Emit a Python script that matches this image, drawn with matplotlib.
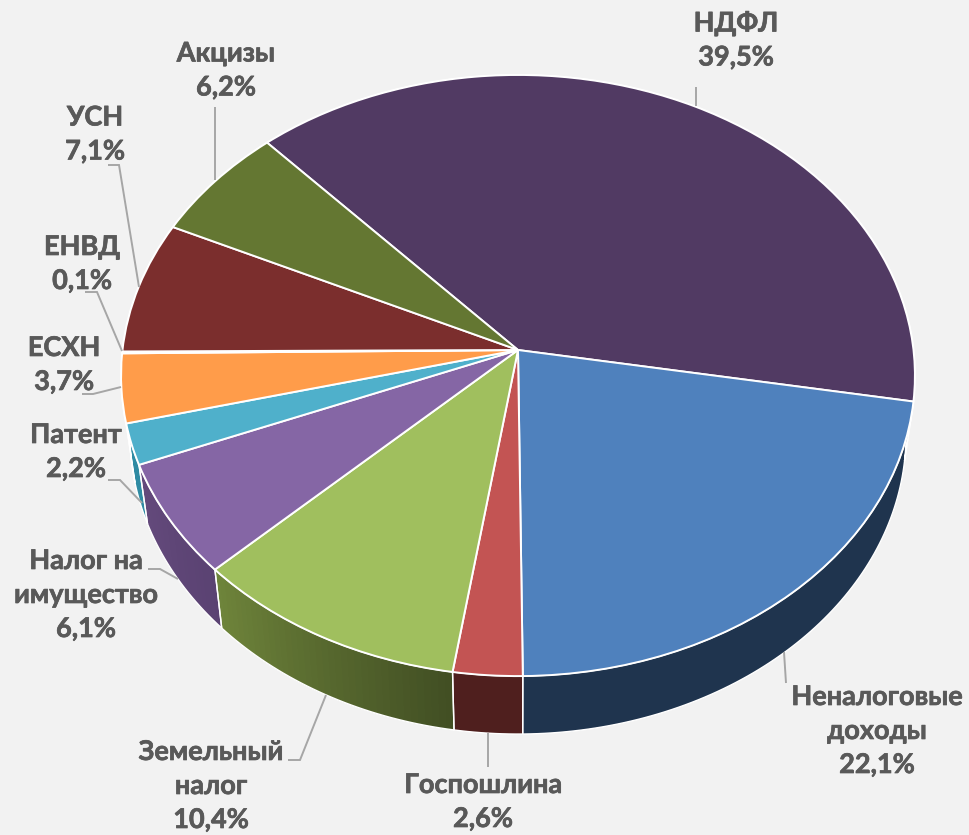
import numpy as np
import matplotlib
matplotlib.use("Agg")
import matplotlib.pyplot as plt
import matplotlib.patheffects as pe
from matplotlib.colors import to_rgb
from matplotlib.patches import Polygon
from matplotlib.transforms import Transform

plt.rcParams['font.family'] = ['Lato', 'DejaVu Sans']

# ---- data ----
names = ['НДФЛ', 'Неналоговые\nдоходы', 'Госпошлина', 'Земельный\nналог',
         'Налог на\nимущество', 'Патент', 'ЕСХН', 'ЕНВД', 'УСН', 'Акцизы']
shares = [39.5, 22.1, 2.6, 10.4, 6.1, 2.2, 3.7, 0.1, 7.1, 6.2]
shares_text = ['39,5%', '22,1%', '2,6%', '10,4%', '6,1%', '2,2%', '3,7%', '0,1%', '7,1%', '6,2%']

# ---- style ----
BG = '#F2F2F2'
top_colors = ['#513A63', '#4F81BD', '#C35453', '#A0BF5E', '#8566A5',
              '#4FB0CB', '#FF9C4A', '#FF9C4A', '#7B2E2D', '#647732']
wall_start = ['#35263F', '#1F344E', '#4F1F1E', '#414E23', '#5A4272',
              '#2F8BA3', '#B86A2E', '#B86A2E', '#4F1F1E', '#414E23']
wall_end = ['#35263F', '#1F344E', '#4F1F1E', '#6F853B', '#644A7C',
            '#2F8BA3', '#B86A2E', '#B86A2E', '#4F1F1E', '#414E23']
label_xy = [(736, 40.5), (877, 731), (483, 802), (211, 786), (86, 595),
            (76, 452), (64, 365), (82, 264), (95, 134.5), (226, 70.5)]
leaders = [
    [(696, 87), (696, 106)],
    [(784, 652), (786, 683)],
    [(488, 733), (488, 767)],
    [(288, 760), (300, 760), (326, 695)],
    [(148, 569), (160, 569), (178, 579)],
    [(108, 480), (120, 480), (142, 503)],
    [(82, 394), (93, 394), (121, 387)],
    [(85, 292), (97, 292), (122, 351)],
    [(108, 165), (119, 165), (139, 287)],
    [(215, 107), (215, 180)],
]
K = 0.0849  # perspective strength
TOP = dict(cx=518.0, cy=350.0, a=395.5, b=298.4)
BOTTOM = dict(cx=518.0, cy=409.6, a=386.6, b=296.9)


def project(uv, cx, cy, a, b):
    uv = np.asarray(uv, float)
    w = 1 + K * uv[..., 1]
    return np.stack([cx + a * uv[..., 0] / w, cy - b * uv[..., 1] / w], axis=-1)


class Perspective(Transform):
    input_dims = 2
    output_dims = 2
    is_affine = False
    has_inverse = False

    def __init__(self, params):
        super().__init__()
        self.params = params

    def transform_non_affine(self, values):
        return project(values, **self.params)


fig = plt.figure(figsize=(9.69, 8.35), dpi=100, facecolor=BG)
ax = fig.add_axes([0, 0, 1, 1], facecolor=BG)

wedges, _ = ax.pie(shares, colors=top_colors, startangle=132.4, counterclock=False,
                   wedgeprops=dict(edgecolor='white', linewidth=1.4))
ax.set_aspect('auto')
ax.set_xlim(0, 969)
ax.set_ylim(835, 0)
ax.axis('off')

persp = Perspective(TOP)
for w in wedges:
    w.set_transform(persp + ax.transData)
    w.set_zorder(3)
    w.set_clip_on(False)


def arc(t1, t2, n):
    t = np.radians(np.linspace(t1, t2, n))
    return np.column_stack([np.cos(t), np.sin(t)])


# side walls: shaded strips between upper and lower rim
for w, ca, cb in zip(wedges, wall_start, wall_end):
    t_hi, t_lo = w.theta2, w.theta1   # clockwise: from t_hi down to t_lo
    n = max(3, int((t_hi - t_lo) / 1.0) + 2)
    uv = arc(t_hi, t_lo, n)
    up = project(uv, **TOP)
    lo = project(uv, **BOTTOM)
    ca_rgb, cb_rgb = np.array(to_rgb(ca)), np.array(to_rgb(cb))
    outline = np.vstack([up, lo[::-1]])
    ax.add_patch(Polygon(outline, closed=True, facecolor=(ca_rgb + cb_rgb) / 2,
                         edgecolor='none', zorder=1))
    if ca != cb:
        for i in range(n - 1):
            c = ca_rgb + (cb_rgb - ca_rgb) * (i + 0.5) / (n - 1)
            j = min(i + 2, n - 1)
            ax.add_patch(Polygon([up[i], up[j], lo[j], lo[i]], closed=True,
                                 facecolor=c, edgecolor='none', zorder=1.1 + 0.001 * i))
    ax.add_patch(Polygon(outline, closed=True, fill=False,
                         edgecolor='white', linewidth=1.0, zorder=2))

for pts in leaders:
    xs, ys = zip(*pts)
    ax.plot(xs, ys, color='#A6A6A6', linewidth=1.4, zorder=4,
            solid_capstyle='butt', solid_joinstyle='miter')

for name, val, (x, y) in zip(names, shares_text, label_xy):
    ax.text(x, y, f'{name}\n{val}', ha='center', va='center', ma='center',
            fontsize=19.5, fontweight='bold', color='#595959', linespacing=1.5, zorder=5,
            path_effects=[pe.withStroke(linewidth=0.5, foreground='#595959')])

fig.savefig('out.png', dpi=100, facecolor=BG)
